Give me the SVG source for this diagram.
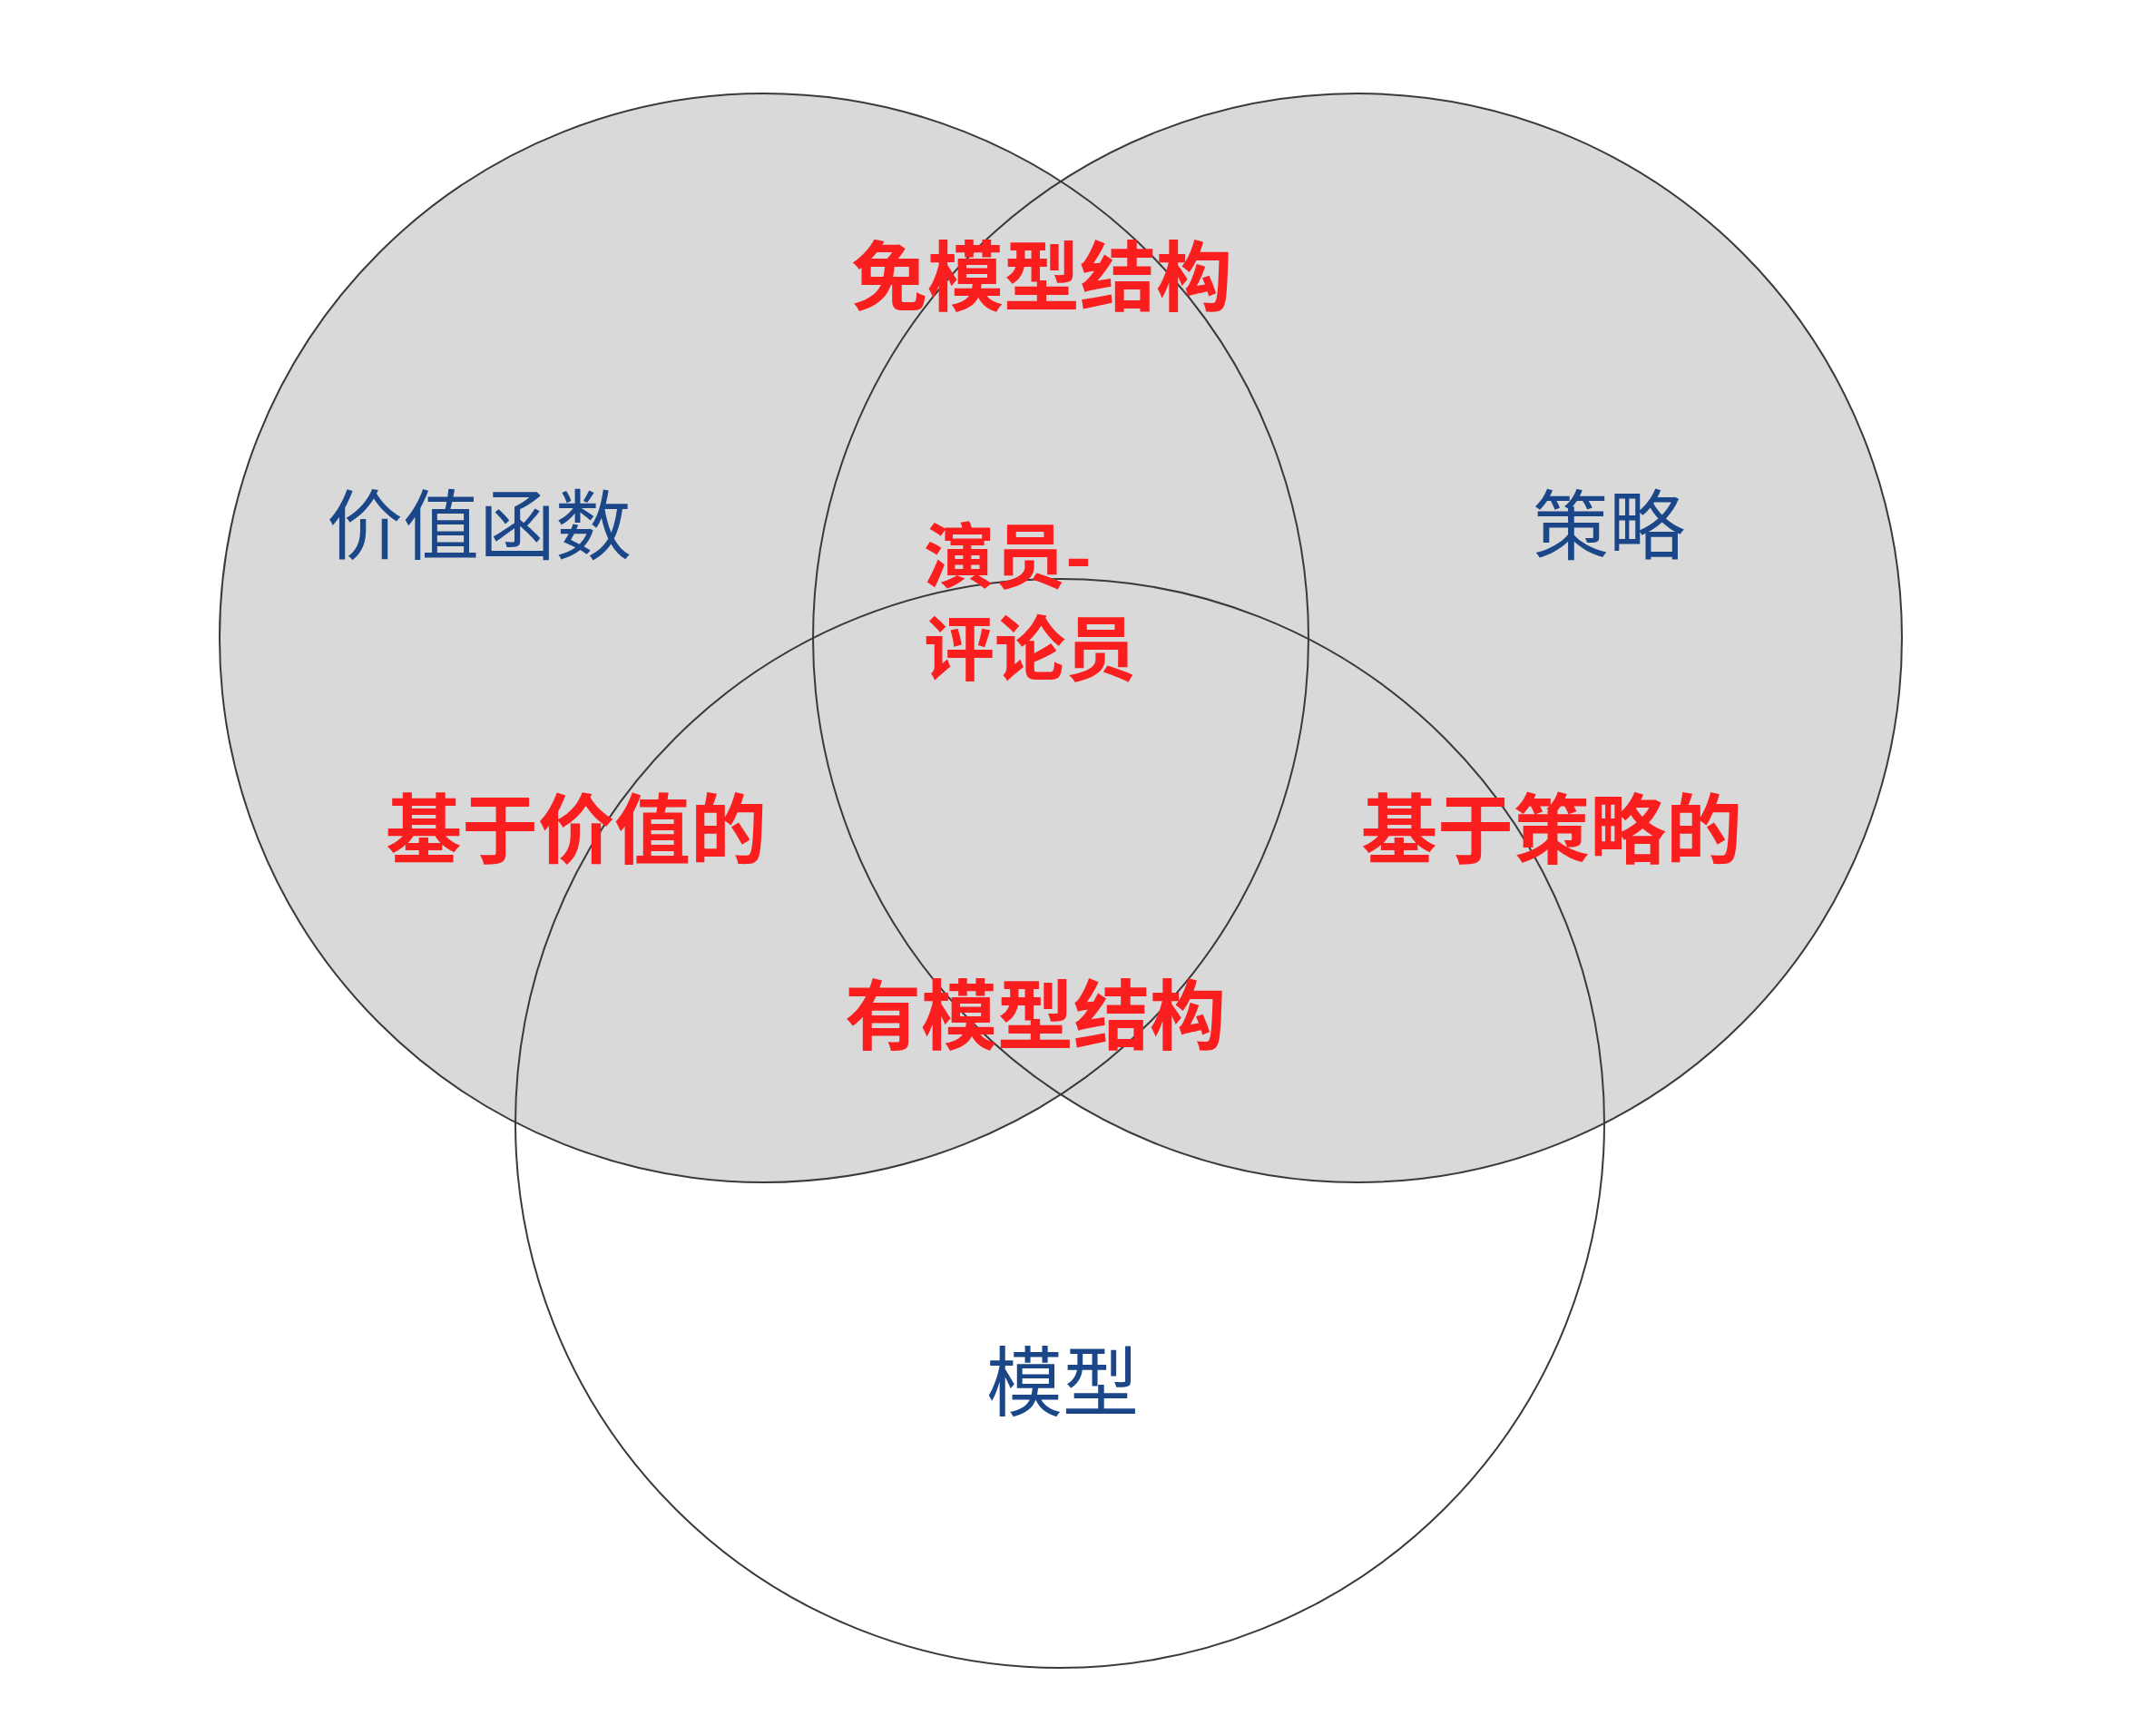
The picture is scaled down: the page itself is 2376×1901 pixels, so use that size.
<svg xmlns="http://www.w3.org/2000/svg" width="2376" height="1901" viewBox="0 0 2376 1901">
<style>
.set{fill:#d9d9d9;stroke:none}
.ring{fill:none;stroke:#3a3a3a;stroke-width:2}
.blue{font-family:"Noto Sans CJK SC","Noto Sans",sans-serif;font-size:84px;fill:#1b4788;text-anchor:middle;dominant-baseline:central}
.red{font-family:"Noto Sans CJK SC","Noto Sans",sans-serif;font-size:84px;font-weight:700;fill:#fa1e1e;text-anchor:middle;dominant-baseline:central}
.red-left{text-anchor:start;font-size:78px}
</style>
<rect x="0" y="0" width="2376" height="1901" fill="#ffffff"/>
<g id="fills">
<circle class="set" cx="842" cy="703" r="600"/>
<circle class="set" cx="1496" cy="703" r="600"/>
</g>
<g id="node-value">
<circle class="ring" cx="842" cy="703" r="600"/>
<text class="blue" x="528" y="573">价值函数</text>
</g>
<g id="node-policy">
<circle class="ring" cx="1496" cy="703" r="600"/>
<text class="blue" x="1773" y="573">策略</text>
</g>
<g id="node-model">
<circle class="ring" cx="1168" cy="1238" r="600"/>
<text class="blue" x="1171" y="1517">模型</text>
</g>
<g id="region-labels">
<text id="model-free" class="red" x="1148" y="299">免模型结构</text>
<g id="actor-critic">
<text class="red red-left" x="1018" y="608">演员-</text>
<text class="red red-left" x="1018" y="710">评论员</text>
</g>
<text id="value-based" class="red" x="635" y="908">基于价值的</text>
<text id="policy-based" class="red" x="1710" y="908">基于策略的</text>
<text id="model-based" class="red" x="1141" y="1113">有模型结构</text>
</g>
<g id="connectors"/>
</svg>
